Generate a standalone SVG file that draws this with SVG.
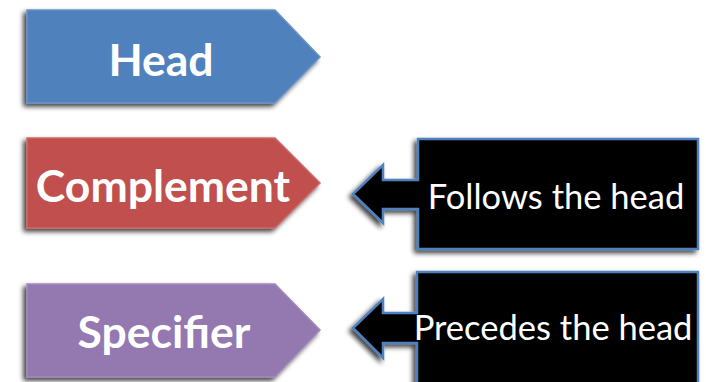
<svg xmlns="http://www.w3.org/2000/svg" width="706" height="382" viewBox="0 0 706 382">
  <defs>
    <filter id="shadow" x="-10%" y="-10%" width="120%" height="130%">
      <feGaussianBlur in="SourceAlpha" stdDeviation="2.5"/>
      <feOffset dx="-3" dy="3" result="b"/>
      <feComponentTransfer><feFuncA type="linear" slope="0.75"/></feComponentTransfer>
      <feMerge><feMergeNode/><feMergeNode in="SourceGraphic"/></feMerge>
    </filter>
  </defs>
  <style>
    .tag { stroke-width: 1.5; filter: url(#shadow); }
    .label { font-family: Lato, "Open Sans", sans-serif; font-weight: bold; fill: #fff; text-anchor: middle; font-size: 44.5px; }
    .note { font-family: Lato, "Open Sans", sans-serif; fill: #fff; text-anchor: middle; font-size: 34.5px; }
    .callout { fill: #000; stroke: #4F81BD; stroke-width: 2.5; filter: url(#shadow); }
  </style>
  <rect width="706" height="382" fill="#fff"/>

  <g id="head">
    <path class="tag" d="M27,10 H275 L320,57 L275,103 H27 Z" fill="#4F81BD" stroke="#6A93C8"/>
    <text class="label" x="161" y="76">Head</text>
  </g>

  <g id="complement">
    <path class="tag" d="M27,138 H275 L320,183 L275,228 H27 Z" fill="#C0504D" stroke="#CC6B68"/>
    <text class="label" x="163" y="202">Complement</text>
  </g>

  <g id="specifier">
    <path class="tag" d="M27,284 H275 L320,330 L275,377 H27 Z" fill="#9379B0" stroke="#A08BB9"/>
    <text class="label" x="164" y="348">Specifier</text>
  </g>

  <g id="connectors">
    <g id="follows">
      <path class="callout" d="M418,139 H698 V249 H418 V209 H383 V223 L353,194 L383,165 V180 H418 Z"/>
      <text class="note" x="556" y="209">Follows the head</text>
    </g>
    <g id="precedes">
      <path class="callout" d="M417,272 H698 V392 H417 V343 H383 V358 L353,328 L383,299 V313 H417 Z"/>
      <text class="note" x="553" y="340">Precedes the head</text>
    </g>
  </g>
</svg>
